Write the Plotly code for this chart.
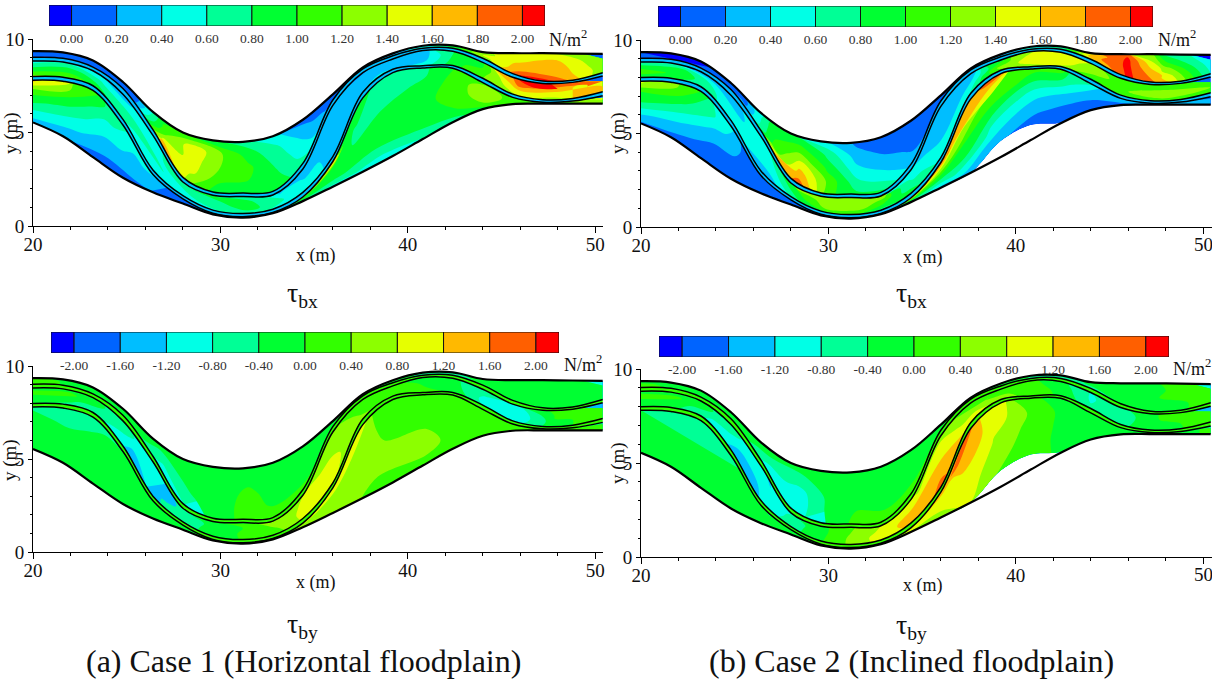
import plotly.graph_objects as go

W, H = 1212, 679
FONT = "Liberation Serif"

# ---- geometry: channel / floodplain lines (x in m, y in m)
X_GRID = [20, 21.6, 23.2, 24.8, 26.4, 28, 29.6, 31.2, 32.8, 34.4, 36, 37.6, 39.2, 40.8, 42.4, 44, 45.6, 47.2, 48.8, 50.4]
TOP = [9.35, 9.28, 8.85, 7.7, 6.1, 5.0, 4.58, 4.5, 4.8, 5.68, 7.04, 8.48, 9.23, 9.64, 9.66, 9.3, 9.24, 9.24, 9.22, 9.2]
P1_HI = [9.02, 8.97, 8.5, 7.35, 5.15, 2.6, 1.82, 1.76, 1.85, 3.35, 6.74, 8.4, 9.1, 9.5, 9.5, 8.97, 8.15, 7.75, 7.8, 8.2]
P1_LO = [8.82, 8.77, 8.3, 7.05, 4.85, 2.35, 1.64, 1.58, 1.66, 3.05, 6.45, 8.2, 8.93, 9.38, 9.34, 8.75, 7.95, 7.62, 7.68, 8.02]
P2_HI = [7.99, 7.95, 7.5, 5.7, 3.0, 1.62, 0.85, 0.67, 0.9, 1.8, 3.71, 7.15, 8.38, 8.57, 8.58, 7.9, 7.05, 6.75, 6.82, 7.18]
P2_LO = [7.8, 7.74, 7.25, 5.4, 2.75, 1.45, 0.68, 0.5, 0.73, 1.55, 3.45, 6.85, 8.2, 8.45, 8.44, 7.67, 6.88, 6.62, 6.68, 6.97]
BOTTOM = [5.54, 4.8, 3.68, 2.58, 1.8, 1.2, 0.62, 0.45, 0.68, 1.33, 2.1, 2.9, 3.74, 4.65, 5.55, 6.25, 6.52, 6.54, 6.54, 6.54]
# lower edge of the coloured area in the inclined-floodplain case (dry patch)
WET_EDGE = [5.54, 4.8, 3.68, 2.58, 1.8, 1.2, 0.62, 0.45, 0.68, 1.33, 2.1, 2.9, 4.6, 5.45, 5.58, 6.25, 6.52, 6.54, 6.54, 6.54]

# ---- stations at which the shear stress was read
X = [20, 22, 24, 25.5, 27, 28.5, 30, 31.5, 33, 34.5, 36, 37.5, 39, 41, 42.5, 44, 46, 48, 50.4]

# ---- shear-stress values: one list per station, running across the zone
A_LOWER = [[.3,.55,.85,1.1,1.7],[.2,.45,.7,1.0,1.45],[.1,.28,.45,.65,.9],[.15,.28,.35,.42,.5],[.25,.3,.32,.35,.38],
           [.28,.3,.3,.32,.35],[.4,.4,.4,.4,.4],[.45,.45,.45,.45,.45],[.5,.5,.6,.8,1.2],[.7,.8,.9,1.0,1.7],
           [.5,.8,.85,.95,1.9],[.5,.85,.85,.75,1.0],[.45,.9,.85,.75,.7],[.6,.95,.95,.85,.75],[.7,1.0,1.1,1.1,1.0],
           [.9,1.2,1.3,1.3,1.15],[1.1,1.1,1.1,1.1,1.1],[1.1,1.1,1.1,1.1,1.1],[1.2,1.3,1.4,1.5,1.8]]
A_CHANNEL = [[1.3,1.0,.75,.5],[1.2,1.0,.8,.55],[.8,.7,.55,.4],[.45,.7,.55,.35],[.5,.6,.6,.5],[.5,.6,.7,.75],[.6,.7,.8,.85],
             [.7,.9,.85,.7],[.55,.65,.6,.55],[.5,.45,.35,.3],[.35,.35,.3,.25],[.4,.35,.3,.2],[.45,.35,.3,.2],[.55,.4,.35,.3],
             [.95,.9,.85,.8],[1.2,1.15,1.0,.95],[1.4,1.6,1.9,2.0],[1.3,1.5,1.7,2.0],[1.6,1.6,1.85,1.9]]
A_UPPER = [[.2,.1,.05,.1,.15],[.15,.1,.1,.1,.1],[.2,.15,.12,.1,.1],[.3,.2,.15,.1,.1],[1.9,1.5,1.2,1.05,.9],[1.2,1.45,1.5,1.55,1.0],
           [.85,1.05,1.2,1.25,.8],[.85,1.0,1.05,.9,.7],[.9,.85,.75,.65,.45],[.7,.5,.4,.25,.15],[.15,.1,.08,.05,.05],[.3,.25,.2,.15,.15],
           [.3,.3,.3,.3,.3],[.5,.5,.5,.5,.5],[.9,.9,.9,.9,.9],[1.2,1.3,1.4,1.35,1.3],[2.05,1.75,1.65,1.5,1.45],[2.0,1.75,1.7,1.6,1.5],[1.2,1.3,1.25,1.2,1.15]]

B_LOWER = [[.15,.45,.8,1.0,1.5],[.1,.3,.6,.95,1.3],[.08,.12,.3,.55,.8],[.1,.12,.15,.15,.2],[.1,.1,.12,.15,.18],[.1,.1,.1,.1,.15],
           [.2,.2,.2,.2,.2],[.25,.25,.25,.25,.25],[.3,.3,.4,.5,.7],[.7,.8,1.0,1.3,1.9],[.3,.7,1.0,1.4,1.95],[.25,.75,.95,1.3,1.7],
           [.25,.5,.8,1.25,1.95],[.1,.25,.45,.75,1.1],[.1,.15,.35,.7,1.1],[.1,.15,.25,.4,.65],[.2,.2,.25,.25,.3],[.2,.2,.25,.3,.4],[.25,.3,.35,.4,.5]]
B_CHANNEL = [[.8,1.1,.95,.55],[.8,.95,.9,.5],[.6,.6,.5,.3],[.4,.45,.4,.3],[.3,.45,.55,.6],[.8,.9,1.0,1.3],[1.0,1.3,1.35,1.4],[1.0,1.3,1.3,1.3],
             [.7,.95,1.15,1.3],[.9,.7,.5,.4],[.55,.4,.25,.2],[.6,.45,.3,.2],[1.1,1.2,1.0,.7],[1.3,1.55,1.55,1.4],[1.35,1.5,1.55,1.45],
             [.9,1.2,1.3,1.4],[1.2,1.2,1.1,1.0],[1.1,1.3,1.2,1.1],[1.05,1.2,1.05,.9]]
B_UPPER = [[.15,.05,.0,.05,.1],[.12,.1,.08,.1,.1],[.15,.1,.08,.08,.08],[.35,.15,.1,.1,.1],[1.6,1.0,.95,.9,.75],[1.9,1.7,1.4,1.1,.8],
           [1.05,1.15,.95,.75,.45],[.85,.65,.45,.3,.15],[.85,.5,.3,.15,.1],[.3,.2,.12,.08,.05],[.1,.08,.05,.03,-.02],[.2,.15,.12,.1,.1],
           [.4,.35,.3,.3,.3],[.45,.45,.45,.45,.45],[.6,.7,.7,.6,.5],[1.4,1.6,1.7,1.6,1.5],[2.05,2.05,2.05,2.05,1.95],[1.7,1.55,1.3,1.0,.85],[.6,.55,.5,.45,.45]]

C_LOWER = [[-.15,-.15,-.2,-.3,-.45],[-.1,-.15,-.2,-.5,-.7],[-.1,-.1,-.2,-.3,-.5],[-.1,-.15,-.2,-.3,-.4],[-.1,-.15,-.2,-.3,-.35],[-.1,-.1,-.15,-.2,-.2],
           [-.1,-.1,-.1,-.1,-.1],[.1,.1,.1,.1,.1],[.15,.2,.3,.4,.5],[.4,.5,.6,.8,1.0],[.45,.6,.7,.8,1.2],[.4,.5,.55,.6,.95],[.3,.45,.45,.25,.4],
           [.35,.45,.4,.2,.2],[.3,.35,.3,.25,.2],[.3,.3,.3,.3,.3],[.15,.15,.15,.15,.15],[.1,.1,.1,.1,.1],[.1,.1,.1,.1,.1]]
C_CHANNEL = [[-.35,-.2,.1,-.1],[-.5,-.3,.1,-.1],[-.85,-.7,-.5,-.3],[-1.5,-1.2,-.9,-.7],[-.7,-.85,-1.0,-1.1],[-.45,-.5,-.55,-.6],[-.2,-.15,-.2,-.2],
             [.1,.1,.05,.05],[.2,.35,.5,.5],[.9,1.0,.9,.8],[.85,.95,.7,.45],[.5,.4,.3,.2],[.3,.2,.15,.1],[.2,.0,-.05,-.1],[-.1,-.2,-.3,-.3],
             [-.8,-.9,-.75,-.6],[-.8,-1.05,-1.05,-.8],[-.1,-.1,.1,.15],[.2,.2,.1,.1]]
C_UPPER = [[.2,.25,.25,.1,.0],[-.1,-.1,-.1,-.1,-.1],[-.2,-.2,-.2,-.2,-.2],[-.3,-.2,-.2,-.2,-.2],[-1.15,-.9,-.6,-.4,-.3],[-.65,-.45,-.3,-.2,-.2],
           [-.1,-.1,-.1,-.1,-.1],[.1,.1,.05,-.05,-.1],[.2,-.05,-.1,-.1,-.1],[.1,-.1,-.15,-.15,-.1],[-.1,-.1,-.1,-.1,-.1],[-.1,-.1,-.1,-.1,-.1],
           [-.2,-.2,-.2,-.2,-.2],[-.5,-.5,-.5,-.5,-.5],[-.55,-.55,-.55,-.55,-.55],[-.3,-.3,-.25,-.2,-.2],[-.25,-.15,-.1,-.1,-.1],[-.1,-.05,.0,-.05,-.05],[-.1,-.1,-.1,-.1,-.1]]

D_LOWER = [[-.1,-.1,-.1,-.15,-.2],[-.1,-.1,-.15,-.2,-.3],[-.1,-.1,-.15,-.25,-.35],[-.1,-.1,-.15,-.2,-.3],[-.1,-.2,-.2,-.3,-.5],[-.2,-.2,-.2,-.25,-.3],
           [-.1,-.1,-.1,-.1,-.1],[.15,.15,.15,.15,.15],[.5,.5,.5,.5,.5],[.7,.8,.9,1.0,1.3],[.7,.8,.9,1.05,1.5],[.8,1.0,1.1,1.4,1.7],[.4,.55,.75,1.0,1.0],
           [.15,.2,.2,.25,.25],[-.1,-.15,-.1,-.1,-.1],[-.2,-.2,-.2,-.1,-.1],[-.15,-.15,-.15,-.15,-.15],[-.15,-.15,-.15,-.15,-.15],[.05,.05,.05,.05,.05]]
D_CHANNEL = [[-.2,-.1,.1,-.1],[-.4,-.2,.05,-.1],[-1.0,-.9,-.5,-.3],[-1.55,-1.35,-1.0,-.7],[-.9,-1.05,-1.15,-1.3],[-.4,-.45,-.5,-.7],[.1,.05,.0,-.1],
             [.6,.6,.5,.4],[1.0,1.05,.95,.85],[1.3,1.4,1.1,.9],[1.7,1.5,1.0,.7],[1.3,.9,.6,.4],[.65,.5,.35,.25],[.2,.2,.1,.1],[-.1,-.15,-.2,-.3],
             [-.7,-.8,-.85,-.8],[-.4,-.45,-.5,-.55],[-.1,-.1,.0,.05],[.15,.2,.2,.15]]
D_UPPER = [[.15,.1,.05,-.05,-.1],[-.1,-.1,-.1,-.1,-.1],[-.2,-.2,-.2,-.2,-.2],[-.3,-.2,-.2,-.2,-.15],[-1.15,-1.0,-.65,-.4,-.3],[-.9,-1.0,-.95,-.5,-.3],
           [-.35,-.3,-.3,-.25,-.2],[.15,.0,-.05,-.1,-.1],[.35,-.1,-.15,-.15,-.1],[.3,-.05,-.1,-.1,-.1],[.1,.0,-.1,-.1,-.1],[-.1,-.1,-.1,-.1,-.1],
           [-.15,-.15,-.15,-.15,-.15],[-.45,-.45,-.45,-.45,-.45],[-.6,-.6,-.6,-.6,-.6],[-.6,-.45,-.35,-.3,-.3],[-.3,-.2,-.2,-.15,-.15],[-.1,-.05,.0,.0,.0],[.1,.05,.0,.0,.0]]

# ---- legends
BAND_COLORS = ["#0000ff", "#0064ff", "#00beff", "#00ffe6", "#00ff96", "#00ff32",
               "#32ff00", "#8cff00", "#e6ff00", "#ffb900", "#ff5f00", "#ff0000"]
LEVELS_X = [0.0, 0.2, 0.4, 0.6, 0.8, 1.0, 1.2, 1.4, 1.6, 1.8, 2.0]
LEVELS_Y = [-2.0, -1.6, -1.2, -0.8, -0.4, 0.0, 0.4, 0.8, 1.2, 1.6, 2.0]
X_TICKS = [20, 30, 40, 50]
Y_TICKS = [0, 5, 10]

# ---- panel layout in pixels
PANELS = [
    dict(left=33, right=603, top=39, bottom=226, lev=LEVELS_X, zones=(A_LOWER, A_CHANNEL, A_UPPER), edge=BOTTOM, strip="#00beff",
         bar=(49, 545, 5, 26), unit=(568, 38), xt=(316, 255), yt=(11, 133), tau=(302, 294), sub="bx"),
    dict(left=641, right=1212, top=40, bottom=227, lev=LEVELS_X, zones=(B_LOWER, B_CHANNEL, B_UPPER), edge=WET_EDGE, strip="#00beff",
         bar=(658, 1153, 6, 27), unit=(1177, 38), xt=(923, 257), yt=(618, 133), tau=(911, 294), sub="bx"),
    dict(left=33, right=603, top=366, bottom=552, lev=LEVELS_Y, zones=(C_LOWER, C_CHANNEL, C_UPPER), edge=BOTTOM, strip="#32ff00",
         bar=(51, 559, 332, 353), unit=(583, 363), xt=(316, 582), yt=(10, 460), tau=(302, 625), sub="by"),
    dict(left=641, right=1212, top=369, bottom=557, lev=LEVELS_Y, zones=(D_LOWER, D_CHANNEL, D_UPPER), edge=WET_EDGE, strip="#32ff00",
         bar=(659, 1169, 336, 357), unit=(1192, 367), xt=(923, 585), yt=(618, 463), tau=(911, 626), sub="by"),
]

fig = go.Figure()
layout = {}
annots = []


def mix(low, high, frac):
    return [l + (h - l) * frac for l, h in zip(low, high)]


def fx(p):
    return p / W


def fy(p):
    return 1 - p / H


def note(text, px, py, size, angle=0):
    annots.append(dict(text=text, x=fx(px), y=fy(py), xref="paper", yref="paper", showarrow=False,
                       xanchor="center", yanchor="middle", textangle=angle,
                       font=dict(family=FONT, size=size, color="#111")))


scale = [[i / 11, c] for i, c in enumerate(BAND_COLORS)]

for n, p in enumerate(PANELS):
    ax, ay = f"x{2*n+1}", f"y{2*n+1}"
    bx, by = f"x{2*n+2}", f"y{2*n+2}"
    step = p["lev"][1] - p["lev"][0]

    zone_edges = [(p["edge"], P2_LO, 5), (P2_HI, P1_LO, 4), (P1_HI, TOP, 5)]
    for k, ((low, high, rows), table) in enumerate(zip(zone_edges, p["zones"])):
        cid = f"c{n}{k}"
        fig.add_trace(go.Carpet(
            carpet=cid, a=X_GRID, b=list(range(rows)),
            x=[X_GRID for _ in range(rows)],
            y=[mix(low, high, j / (rows - 1)) for j in range(rows)],
            aaxis=dict(showgrid=False, startline=False, endline=False, showticklabels="none", minorgridcount=0, smoothing=1),
            baxis=dict(showgrid=False, startline=False, endline=False, showticklabels="none", minorgridcount=0, smoothing=0),
            xaxis=ax, yaxis=ay))
        fig.add_trace(go.Contourcarpet(
            carpet=cid, a=X, b=list(range(rows)),
            z=[[col[j] for col in table] for j in range(rows)],
            autocontour=False,
            contours=dict(start=p["lev"][0], end=p["lev"][-1], size=step, coloring="fill", showlines=False),
            colorscale=scale, showscale=False, line=dict(width=0),
            xaxis=ax, yaxis=ay))

    black = dict(color="black", width=1.5, shape="spline", smoothing=1)
    for low, high in ((P2_LO, P2_HI), (P1_LO, P1_HI)):
        fig.add_trace(go.Scatter(x=X_GRID, y=low, mode="lines", line=black, xaxis=ax, yaxis=ay, showlegend=False, hoverinfo="skip"))
        fig.add_trace(go.Scatter(x=X_GRID, y=high, mode="lines", line=black, fill="tonexty", fillcolor=p["strip"],
                                 xaxis=ax, yaxis=ay, showlegend=False, hoverinfo="skip"))
    for edge in (TOP, BOTTOM):
        fig.add_trace(go.Scatter(x=X_GRID, y=edge, mode="lines", line=dict(color="black", width=2.2, shape="spline", smoothing=1),
                                 xaxis=ax, yaxis=ay, showlegend=False, hoverinfo="skip"))

    # colour key
    lev = p["lev"]
    lo, hi = lev[0] - step / 2, lev[-1] + step / 2
    edges = [lo] + lev + [hi]
    fig.add_trace(go.Bar(y=[0] * 12, x=[edges[i + 1] - edges[i] for i in range(12)], base=edges[:12], orientation="h",
                         marker=dict(color=BAND_COLORS, line=dict(color="#111", width=1)), width=1,
                         xaxis=bx, yaxis=by, showlegend=False, hoverinfo="skip"))

    axis_font = dict(family=FONT, size=19, color="#111")
    layout[f"xaxis{2*n+1}"] = dict(domain=[fx(p["left"]), fx(p["right"])], range=[20, 20 + (p["right"] - p["left"]) / 18.74],
                                   anchor=ay, tickmode="array", tickvals=X_TICKS, ticks="outside", ticklen=6, tickwidth=1,
                                   tickcolor="black", showline=True, linecolor="black", linewidth=1, showgrid=False, zeroline=False,
                                   tickfont=axis_font, ticklabelstandoff=-5,
                                   minor=dict(dtick=2, tick0=20, ticks="outside", ticklen=3, tickcolor="black", showgrid=False))
    layout[f"yaxis{2*n+1}"] = dict(domain=[fy(p["bottom"]), fy(p["top"])], range=[0, 10], anchor=ax, tickmode="array",
                                   tickvals=Y_TICKS, ticks="outside", ticklen=4, tickwidth=1, tickcolor="black", showline=True,
                                   linecolor="black", linewidth=1, showgrid=False, zeroline=False, tickfont=axis_font,
                                   minor=dict(dtick=1, tick0=0, ticks="outside", ticklen=2, tickcolor="black", showgrid=False))
    l, r, t, b = p["bar"]
    layout[f"xaxis{2*n+2}"] = dict(domain=[fx(l), fx(r)], range=[lo, hi], anchor=by, tickmode="array", tickvals=lev,
                                   ticktext=[f"{v:.2f}" for v in lev], ticks="", showline=False, showgrid=False, zeroline=False,
                                   ticklabelstandoff=2, tickfont=dict(family=FONT, size=13.5, color="#333"))
    layout[f"yaxis{2*n+2}"] = dict(domain=[fy(b), fy(t)], range=[-0.5, 0.5], anchor=bx, visible=False)

    note("N/m<sup>2</sup>", *p["unit"], 18)
    note("x (m)", *p["xt"], 18)
    note("y (m)", *p["yt"], 19, angle=-90)
    note(f"τ<sub>{p['sub']}</sub>", *p["tau"], 28)
    if p["right"] >= W:
        # this tick label runs off the right edge, as it does in the source figure
        note(str(X_TICKS[-1]), p["left"] + 30 * 18.74, p["bottom"] + 17, 19)

note("(a) Case 1 (Horizontal floodplain)", 303, 661, 32)
note("(b) Case 2 (Inclined floodplain)", 911, 661, 32)

fig.update_layout(width=W, height=H, margin=dict(l=0, r=0, t=0, b=0, pad=0, autoexpand=False), paper_bgcolor="white", plot_bgcolor="white",
                  barmode="overlay", showlegend=False, annotations=annots, **layout)
fig.write_html("out.html", config=dict(displayModeBar=False))

# the page has to show the figure edge to edge at the window size
with open("out.html", encoding="utf-8") as fh:
    page = fh.read()
page = page.replace("<body>", '<body style="margin:0;padding:0;overflow:hidden">', 1)
with open("out.html", "w", encoding="utf-8") as fh:
    fh.write(page)
